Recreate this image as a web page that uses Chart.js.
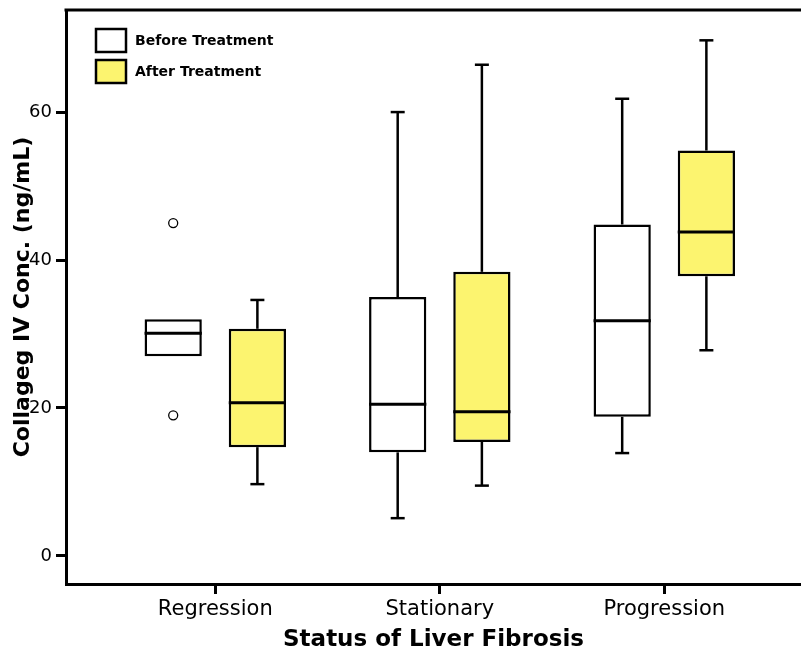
<!DOCTYPE html>
<html lang="en">
<head>
    <meta charset="UTF-8">
    <title>Collagen IV by Status of Liver Fibrosis</title>
    <script src="https://cdn.jsdelivr.net/npm/chart.js"></script>
    <style>
        html, body { margin: 0; padding: 0; background: #ffffff; }
        #wrap { width: 801px; height: 656px; }
    </style>
</head>
<body>
    <div id="wrap"><canvas id="boxChart" width="801" height="656"></canvas></div>

    <script>
        // Values
        const categories = ['Regression', 'Stationary', 'Progression'];

        const beforeMin = [27.0, 5.1, 13.9];
        const beforeQ1 = [27.0, 14.0, 18.8];
        const beforeMedian = [30.1, 20.5, 31.8];
        const beforeQ3 = [32.0, 35.0, 44.8];
        const beforeMax = [32.0, 60.0, 61.8];
        const beforeOutliers = [[45.0, 19.0], [], []];

        const afterMin = [9.7, 9.5, 27.8];
        const afterQ1 = [14.7, 15.4, 37.8];
        const afterMedian = [20.7, 19.5, 43.8];
        const afterQ3 = [30.7, 38.4, 54.8];
        const afterMax = [34.6, 66.4, 69.7];
        const afterOutliers = [[], [], []];

        const yTicks = [0, 20, 40, 60];

        const YELLOW = '#fcf46f';
        const FONT = 'DejaVu Sans';

        // extra stats the bars don't carry (whiskers, medians, outliers)
        const boxStats = [
            { min: beforeMin, median: beforeMedian, max: beforeMax, outliers: beforeOutliers },
            { min: afterMin, median: afterMedian, max: afterMax, outliers: afterOutliers }
        ];

        const boxExtras = {
            id: 'boxExtras',
            afterDatasetsDraw(chart) {
                const ctx = chart.ctx;
                const y = chart.scales.y;
                const area = chart.chartArea;
                ctx.save();
                ctx.strokeStyle = '#000';
                ctx.lineCap = 'butt';

                boxStats.forEach((st, d) => {
                    const meta = chart.getDatasetMeta(d);
                    meta.data.forEach((el, i) => {
                        const cx = el.x, half = el.width / 2;
                        const q1 = chart.data.datasets[d].data[i].y[0];
                        const q3 = chart.data.datasets[d].data[i].y[1];
                        ctx.lineWidth = 2.5;
                        // whiskers
                        [[q3, st.max[i]], [q1, st.min[i]]].forEach(([from, to]) => {
                            if (Math.abs(to - from) < 0.01) return;
                            ctx.beginPath();
                            ctx.moveTo(cx, y.getPixelForValue(from));
                            ctx.lineTo(cx, y.getPixelForValue(to));
                            ctx.stroke();
                            ctx.beginPath();
                            ctx.moveTo(cx - 7, y.getPixelForValue(to));
                            ctx.lineTo(cx + 7, y.getPixelForValue(to));
                            ctx.stroke();
                        });
                        // median
                        ctx.lineWidth = 3;
                        ctx.beginPath();
                        ctx.moveTo(cx - half, y.getPixelForValue(st.median[i]));
                        ctx.lineTo(cx + half, y.getPixelForValue(st.median[i]));
                        ctx.stroke();
                        // outliers
                        ctx.lineWidth = 1.3;
                        st.outliers[i].forEach(v => {
                            ctx.beginPath();
                            ctx.arc(cx, y.getPixelForValue(v), 4.5, 0, Math.PI * 2);
                            ctx.fillStyle = '#fff';
                            ctx.fill();
                            ctx.stroke();
                        });
                    });
                });

                // top frame line
                ctx.lineWidth = 3;
                ctx.beginPath();
                ctx.moveTo(area.left - 1.5, area.top);
                ctx.lineTo(chart.width, area.top);
                ctx.stroke();

                // legend in the upper left corner
                chart.data.datasets.forEach((ds, d) => {
                    const top = 29 + d * 31;
                    ctx.fillStyle = ds.backgroundColor;
                    ctx.fillRect(96, top, 30, 23);
                    ctx.lineWidth = 2.5;
                    ctx.strokeRect(96, top, 30, 23);
                    ctx.fillStyle = '#000';
                    ctx.font = 'bold 14px ' + FONT;
                    ctx.textBaseline = 'middle';
                    ctx.textAlign = 'left';
                    ctx.fillText(ds.label, 135, top + 12);
                });
                ctx.restore();
            }
        };

        const ctx = document.getElementById('boxChart').getContext('2d');
        const boxChart = new Chart(ctx, {
            type: 'bar',
            data: {
                datasets: [{
                    label: 'Before Treatment',
                    data: categories.map((c, i) => ({ x: i, y: [beforeQ1[i], beforeQ3[i]] })),
                    backgroundColor: '#ffffff',
                    borderColor: '#000000',
                    borderWidth: 2.5,
                    borderSkipped: false
                }, {
                    label: 'After Treatment',
                    data: categories.map((c, i) => ({ x: i, y: [afterQ1[i], afterQ3[i]] })),
                    backgroundColor: YELLOW,
                    borderColor: '#000000',
                    borderWidth: 2.5,
                    borderSkipped: false
                }]
            },
            options: {
                responsive: false,
                animation: false,
                categoryPercentage: 0.75,
                barPercentage: 0.68,
                layout: { padding: { top: 10, right: 0, left: 0, bottom: 0 } },
                plugins: {
                    legend: { display: false },
                    tooltip: { enabled: false }
                },
                scales: {
                    x: {
                        type: 'linear',
                        offset: false,
                        min: -0.665,
                        max: 2.609,
                        afterBuildTicks: s => { s.ticks = categories.map((c, i) => ({ value: i })); },
                        afterFit: s => { s.height = 72; s.paddingLeft = 0; s.paddingRight = 0; },
                        ticks: {
                            callback: v => categories[v],
                            color: '#000',
                            padding: 3,
                            font: { family: FONT, size: 21 }
                        },
                        grid: { offset: false, drawOnChartArea: false, drawTicks: true, tickLength: 10, tickWidth: 3, tickColor: '#000' },
                        border: { display: true, width: 3, color: '#000' },
                        title: {
                            display: true,
                            text: 'Status of Liver Fibrosis',
                            color: '#000',
                            padding: { top: 0, bottom: 2 },
                            font: { family: FONT, size: 23, weight: 'bold' }
                        }
                    },
                    y: {
                        min: -3.8,
                        max: 73.8,
                        afterBuildTicks: s => { s.ticks = yTicks.map(v => ({ value: v })); },
                        afterFit: s => { s.width = 66; s.paddingTop = 0; s.paddingBottom = 0; },
                        ticks: {
                            color: '#000',
                            padding: 4,
                            font: { family: FONT, size: 18 }
                        },
                        grid: { drawOnChartArea: false, drawTicks: true, tickLength: 10, tickWidth: 3, tickColor: '#000' },
                        border: { display: true, width: 3, color: '#000' },
                        title: {
                            display: true,
                            text: 'Collageg IV Conc. (ng/mL)',
                            color: '#000',
                            padding: { top: 10, bottom: 0 },
                            font: { family: FONT, size: 22, weight: 'bold' }
                        }
                    }
                }
            },
            plugins: [boxExtras]
        });
    </script>
</body>
</html>
